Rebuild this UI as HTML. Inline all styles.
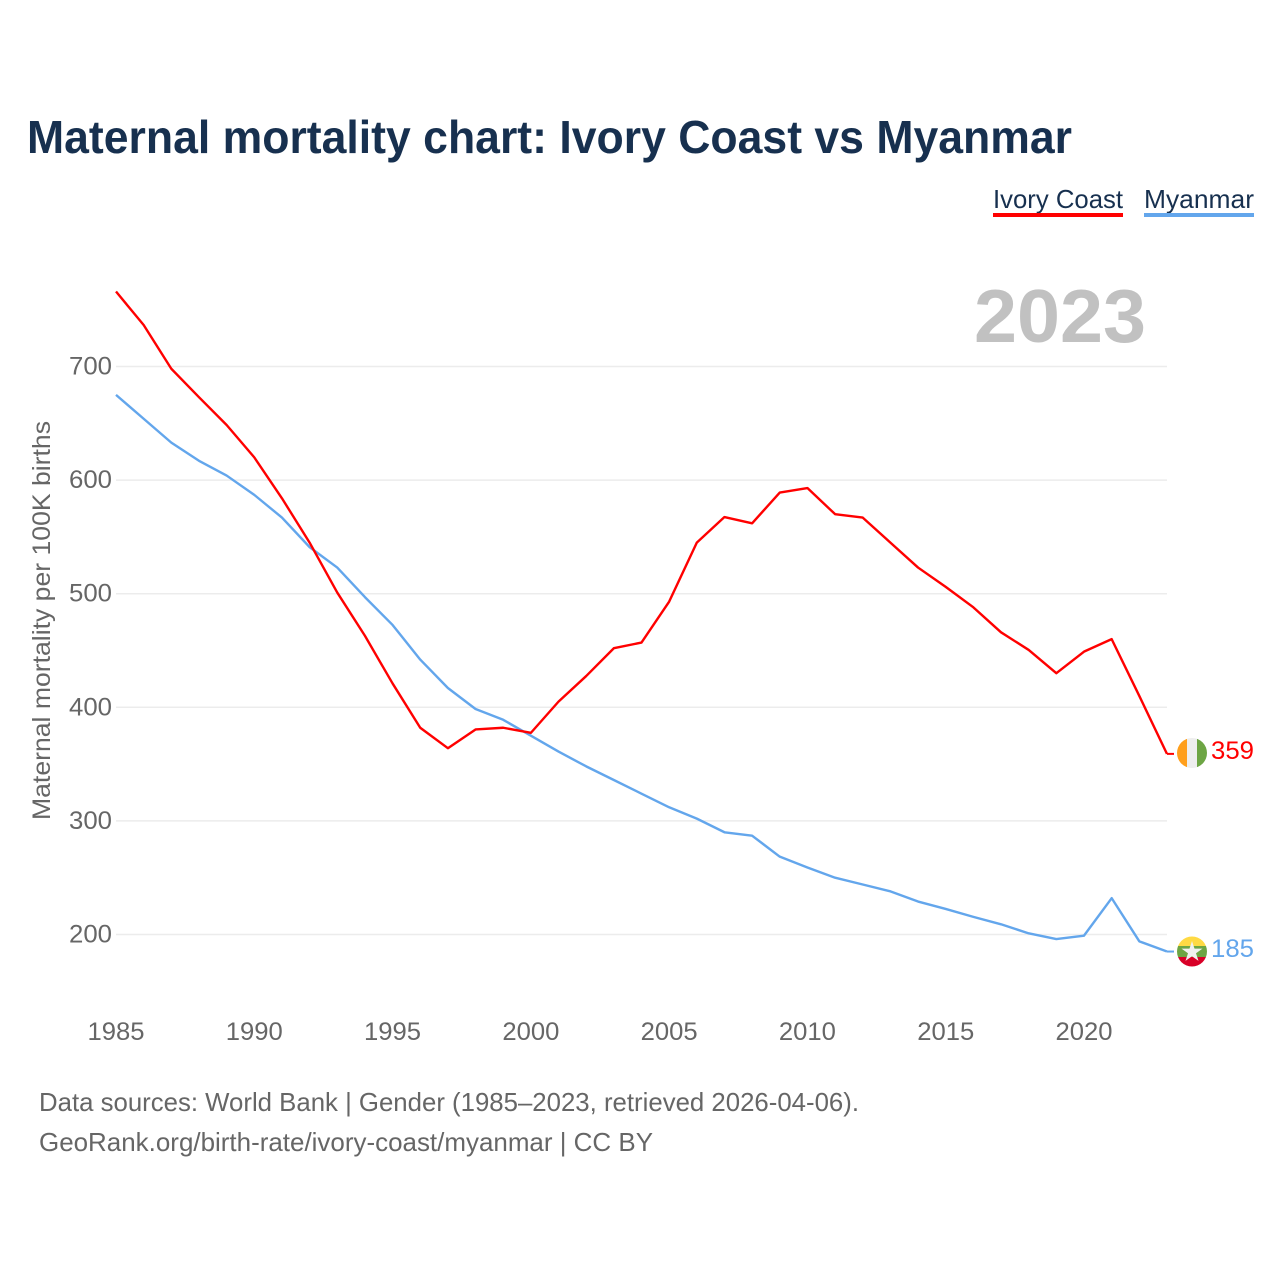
<!DOCTYPE html>
<html lang="en">
<head>
<meta charset="utf-8">
<title>Maternal mortality chart: Ivory Coast vs Myanmar</title>
<style>
html,body{margin:0;padding:0;background:#fff;}
svg{display:block;font-family:"Liberation Sans",Arial,sans-serif;}
</style>
</head>
<body>
<svg id="chart" xmlns="http://www.w3.org/2000/svg" width="1280" height="1280" viewBox="0 0 1280 1280">
  <rect width="1280" height="1280" fill="#fff"/>
  <text x="27" y="153" font-size="46" font-weight="700" fill="#17304f" textLength="1045" lengthAdjust="spacingAndGlyphs">Maternal mortality chart: Ivory Coast vs Myanmar</text>
  <g>
    <g>
      <text x="993" y="208" font-size="26" fill="#17304f" textLength="130" lengthAdjust="spacingAndGlyphs">Ivory Coast</text>
      <rect x="993" y="213" width="130" height="4" fill="#ff0000"/>
    </g>
    <g>
      <text x="1144" y="208" font-size="26" fill="#17304f" textLength="110" lengthAdjust="spacingAndGlyphs">Myanmar</text>
      <rect x="1144" y="213" width="110" height="4" fill="#63a6ec"/>
    </g>
  </g>
  <text x="1146" y="342" text-anchor="end" font-size="75" font-weight="700" fill="#c1c1c1" textLength="172" lengthAdjust="spacingAndGlyphs">2023</text>
  <g id="grid"></g>
  <g id="y-ticks"></g>
  <g id="x-ticks"></g>
  <text transform="translate(50,820) rotate(-90)" font-size="25" fill="#666" textLength="399" lengthAdjust="spacingAndGlyphs">Maternal mortality per 100K births</text>
  <g id="series"></g>
  <g>
    <clipPath id="clip-ci"><circle cx="1192" cy="753" r="15"/></clipPath>
    <g clip-path="url(#clip-ci)">
      <rect x="1177" y="738" width="10" height="30" fill="#ff9f1c"/>
      <rect x="1187" y="738" width="10" height="30" fill="#eeeeee"/>
      <rect x="1197" y="738" width="10" height="30" fill="#6da544"/>
    </g>
    <text x="1211" y="759" font-size="25" fill="#ff0000" textLength="43" lengthAdjust="spacingAndGlyphs">359</text>
  </g>
  <g>
    <clipPath id="clip-mm"><circle cx="1192" cy="951.5" r="15"/></clipPath>
    <g clip-path="url(#clip-mm)">
      <rect x="1177" y="936" width="30" height="10" fill="#ffda44"/>
      <rect x="1177" y="946" width="30" height="11" fill="#6da544"/>
      <rect x="1177" y="957" width="30" height="11" fill="#d80027"/>
      <polygon points="1192,941 1194.5,948.6 1202.5,948.6 1196,953.3 1198.5,960.9 1192,956.2 1185.5,960.9 1188,953.3 1181.5,948.6 1189.5,948.6" fill="#f0f0f0"/>
    </g>
    <text x="1211" y="957" font-size="25" fill="#63a6ec" textLength="43" lengthAdjust="spacingAndGlyphs">185</text>
  </g>
  <text x="39" y="1111" font-size="26" fill="#666" textLength="820" lengthAdjust="spacingAndGlyphs">Data sources: World Bank | Gender (1985–2023, retrieved 2026-04-06).</text>
  <text x="39" y="1151" font-size="26" fill="#666" textLength="614" lengthAdjust="spacingAndGlyphs">GeoRank.org/birth-rate/ivory-coast/myanmar | CC BY</text>
</svg>
<script>
const years = [1985,1986,1987,1988,1989,1990,1991,1992,1993,1994,1995,1996,1997,1998,1999,2000,2001,2002,2003,2004,2005,2006,2007,2008,2009,2010,2011,2012,2013,2014,2015,2016,2017,2018,2019,2020,2021,2022,2023];
const ivoryCoast = [766,736.5,698,673,648.5,620,584,545,501,463,421,382,364,380.5,382,377.5,405,427.5,452,457,493,545,567.5,562,589,593,570,567,545,523,506,488,466,450.5,430,449,460,410,359];
const myanmar = [675,654,633,617,604,587,567,541,523,497,472.5,442,417,398.5,389,375,361,348,336,324,312,302,290,287,268.5,259,250,244,238,229,222.5,215.5,209,201,196,199,232,194,185];
const yTickValues = [200,300,400,500,600,700];
const xTickValues = [1985,1990,1995,2000,2005,2010,2015,2020];

const NS = 'http://www.w3.org/2000/svg';
function xScale(year) { return 116 + (year - 1985) * (1084 - 116) / 35; }
function yScale(value) { return 934.5 - (value - 200) * (934.5 - 366.5) / 500; }
function make(tag, parent, attrs, text) {
  const el = document.createElementNS(NS, tag);
  for (const k in attrs) el.setAttribute(k, attrs[k]);
  if (text !== undefined) el.textContent = text;
  parent.appendChild(el);
  return el;
}
const grid = document.getElementById('grid');
const yTicks = document.getElementById('y-ticks');
const xTicks = document.getElementById('x-ticks');
const seriesGroup = document.getElementById('series');

yTickValues.forEach(function (v) {
  const line = make('line', grid, {x1: 116, x2: 1167, y1: yScale(v), y2: yScale(v), stroke: '#ececec', 'stroke-width': 1.5});
  
  
  const label = make('text', yTicks, {x: 112, y: yScale(v) + 8, 'text-anchor': 'end', 'font-size': 25, fill: '#666', textLength: 43, lengthAdjust: 'spacingAndGlyphs'}, String(v));
  
  
});
xTickValues.forEach(function (y) {
  const label = make('text', xTicks, {x: xScale(y), y: 1040, 'text-anchor': 'middle', 'font-size': 25, fill: '#666', textLength: 57, lengthAdjust: 'spacingAndGlyphs'}, String(y));
  
  
});
function linePath(values) {
  return values.map(function (v, i) {
    return (i ? 'L' : 'M') + xScale(years[i]).toFixed(2) + ' ' + yScale(v).toFixed(2);
  }).join(' ');
}
const myanmarLine = make('path', seriesGroup, {d: linePath(myanmar), fill: 'none', stroke: '#63a6ec', 'stroke-width': 2.4, 'stroke-linejoin': 'round'});


const ivoryLine = make('path', seriesGroup, {d: linePath(ivoryCoast), fill: 'none', stroke: '#ff0000', 'stroke-width': 2.4, 'stroke-linejoin': 'round'});


const ivoryLeader = make('line', seriesGroup, {x1: xScale(2023), x2: 1174, y1: yScale(ivoryCoast[38]), y2: yScale(ivoryCoast[38]), stroke: '#ff0000', 'stroke-width': 2});


const myanmarLeader = make('line', seriesGroup, {x1: xScale(2023), x2: 1174, y1: yScale(myanmar[38]), y2: yScale(myanmar[38]), stroke: '#63a6ec', 'stroke-width': 2});


</script>
</body>
</html>
